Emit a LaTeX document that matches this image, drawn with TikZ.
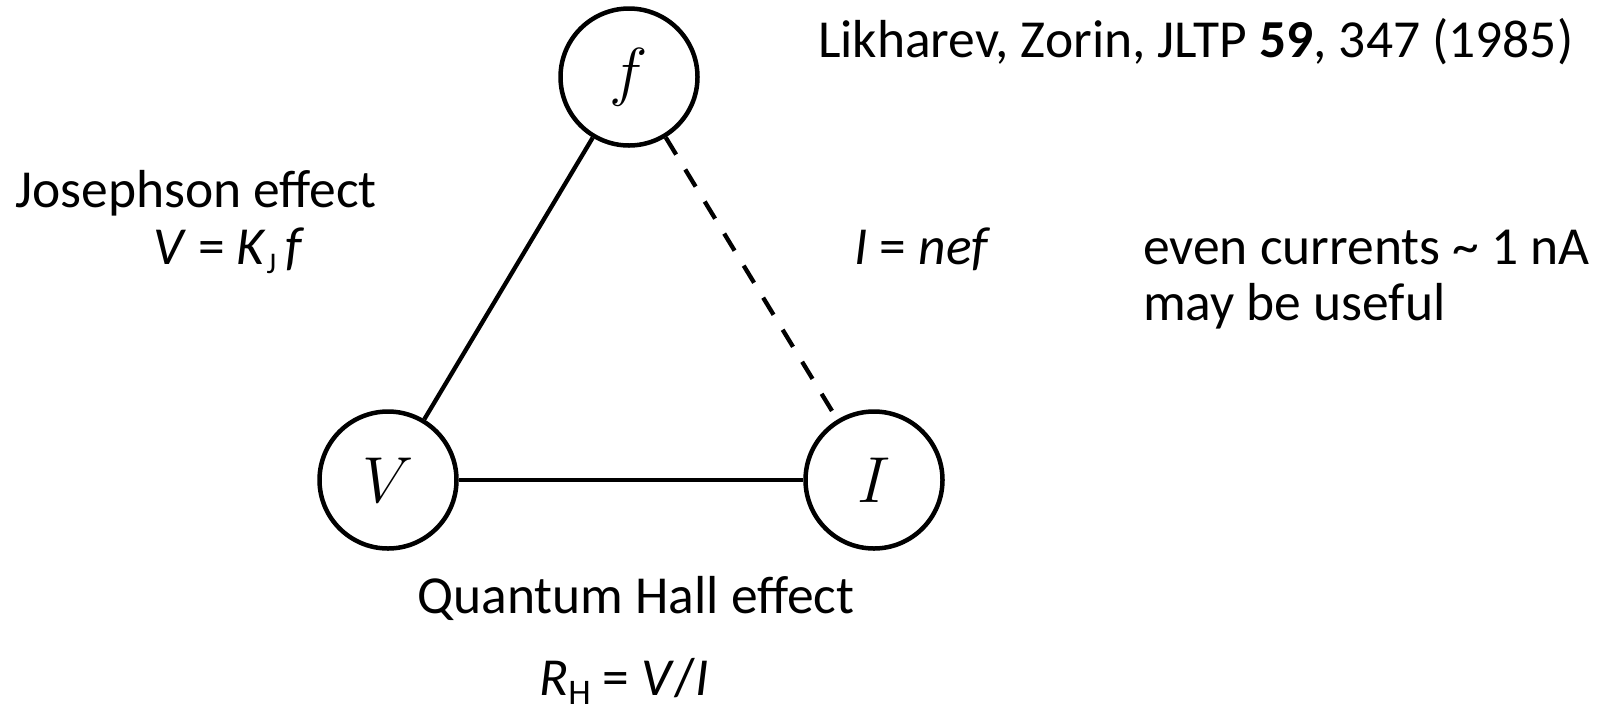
\RequirePackage{fix-cm}
\documentclass[tikz,border=0pt]{standalone}
\usepackage[no-math]{fontspec}
\setmainfont{Carlito}
\begin{document}
\begin{tikzpicture}[x=1pt,y=-1pt,
  qty/.style={circle,draw,line width=4.5pt,minimum size=137pt,inner sep=0pt,font=\fontsize{65}{70}\selectfont},
  conn/.style={line width=4.3pt},
  dconn/.style={line width=4.3pt,dash pattern=on 20pt off 17.5pt},
  txt/.style={anchor=base west,inner sep=0pt,font=\fontsize{53.5}{60}\selectfont},
  ctxt/.style={anchor=base,inner sep=0pt,font=\fontsize{53.5}{60}\selectfont}]
\useasboundingbox (0,0) rectangle (1603,716);
\node[qty] (f) at (629,77) {$f$};
\node[qty] (V) at (388,480) {$V$};
\node[qty] (I) at (874,480) {$I$};
\draw[conn] (f) -- (V);
\draw[dconn] (f) -- (I);
\draw[conn] (V) -- (I);
\node[txt] (jos) at (15,207) {Josephson effect};
\node[txt] (jeq) at (153,264) {\textit{V} = \textit{K}\raisebox{-0.18em}{\fontsize{30}{30}\selectfont J}\,\textit{f}};
\node[txt] (ieq) at (854,264) {\textit{I} = \textit{nef}};
\node[txt] (even) at (1143,264) {even currents \textasciitilde\ 1 nA};
\node[txt] (may) at (1143,320) {may be useful};
\node[txt] (lik) at (818,57) {Likharev, Zorin, JLTP \textbf{59}, 347 (1985)};
\node[ctxt] (qhe) at (636,613) {Quantum Hall effect};
\node[ctxt] (req) at (624,695) {\textit{R}\raisebox{-0.18em}{\fontsize{36}{36}\selectfont H} = \textit{V}/\textit{I}};
\end{tikzpicture}
\end{document}
